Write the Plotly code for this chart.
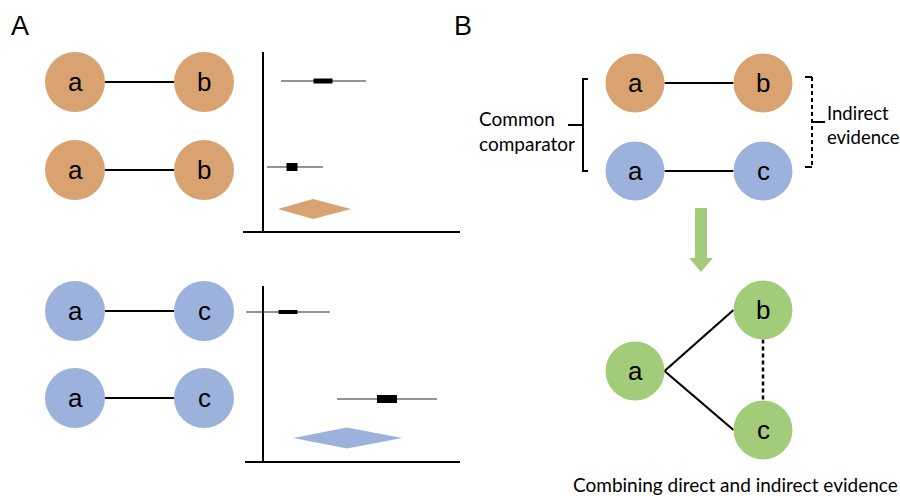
import plotly.graph_objects as go

# ---------------- data (diagram units = pixels of the 900x496 canvas) ----------------
ORANGE = "#d8a371"
BLUE = "#9cb2dd"
GREEN = "#a3cc7a"

# Panel A pairwise diagrams
pairA_left_x = [75, 75, 75, 75]
pairA_right_x = [204, 204, 204, 204]
pairA_y = [82, 170, 311, 398]
pairA_left_lab = ["a", "a", "a", "a"]
pairA_right_lab = ["b", "b", "c", "c"]
pairA_color = [ORANGE, ORANGE, BLUE, BLUE]
node_r = 30

# Panel A forest plots: study estimates and CIs
study_y = [81, 167, 312, 399]
study_est = [323, 292, 288, 387]
study_lo = [281, 267, 246, 337]
study_hi = [366, 323, 330, 437]
study_box_w = [19, 11, 19, 20]
study_box_h = [5, 8, 4, 8]
pooled_y = [209, 438]
pooled_est = [313, 347]
pooled_lo = [278, 293]
pooled_hi = [351, 402]
pooled_h = [20, 21]
pooled_color = [ORANGE, BLUE]
# forest axes: vertical x, y-top, y-bottom(=horizontal axis y), horizontal x0,x1
axis_vx = [263, 263]
axis_top = [52, 286]
axis_bottom = [232, 462]
axis_hx0 = [243, 245]
axis_hx1 = [460, 460]

# Panel B pairwise diagrams
pairB_left_x = [635, 635]
pairB_right_x = [763, 763]
pairB_y = [83, 171]
pairB_left_lab = ["a", "a"]
pairB_right_lab = ["b", "c"]
pairB_color = [ORANGE, BLUE]
nodeB_r = 29.5

# Brackets
left_bracket_x = 583
left_bracket_y = [79, 171]
left_bracket_mid = 125
right_bracket_x = 812
right_bracket_y = [77, 167]
right_bracket_mid = 122

# Combined network
net_lab = ["a", "b", "c"]
net_x = [635, 763, 763]
net_y = [371, 310, 430]

# Arrow
arrow_x = 701
arrow_y = [208, 258, 272]

# ---------------- figure ----------------
shapes = []
ann = []


def line(x0, y0, x1, y1, w=2, color="black", dash="solid"):
    shapes.append(dict(type="line", x0=x0, y0=y0, x1=x1, y1=y1,
                       line=dict(color=color, width=w, dash=dash)))


def circle(cx, cy, r, color):
    shapes.append(dict(type="circle", x0=cx - r, x1=cx + r, y0=cy - r, y1=cy + r,
                       fillcolor=color, line=dict(width=0)))


def label(x, y, text, size=26, family="Liberation Sans", xanchor="center"):
    ann.append(dict(x=x, y=y, text=text, showarrow=False, xanchor=xanchor,
                    yanchor="middle", font=dict(size=size, family=family, color="black")))


# Panel A pairs
for lx, rx, y, ll, rl, c in zip(pairA_left_x, pairA_right_x, pairA_y,
                                pairA_left_lab, pairA_right_lab, pairA_color):
    line(lx + node_r, y, rx - node_r, y, w=2.2)
    circle(lx, y, node_r, c)
    circle(rx, y, node_r, c)
    label(lx, y, ll)
    label(rx, y, rl)

# Forest axes
for vx, t, b, h0, h1 in zip(axis_vx, axis_top, axis_bottom, axis_hx0, axis_hx1):
    line(vx, t, vx, b, w=2)
    line(h0, b, h1, b, w=2)

# Study CIs and boxes
for y, e, lo, hi, bw, bh in zip(study_y, study_est, study_lo, study_hi,
                                study_box_w, study_box_h):
    line(lo, y, hi, y, w=1.2, color="#2a2a2a")
    shapes.append(dict(type="rect", x0=e - bw / 2, x1=e + bw / 2, y0=y - bh / 2,
                       y1=y + bh / 2, fillcolor="black", line=dict(width=0)))

# Pooled diamonds
for y, e, lo, hi, h, c in zip(pooled_y, pooled_est, pooled_lo, pooled_hi,
                              pooled_h, pooled_color):
    shapes.append(dict(type="path",
                       path=f"M {lo},{y} L {e},{y - h / 2} L {hi},{y} L {e},{y + h / 2} Z",
                       fillcolor=c, line=dict(width=0)))

# Panel B pairs
for lx, rx, y, ll, rl, c in zip(pairB_left_x, pairB_right_x, pairB_y,
                                pairB_left_lab, pairB_right_lab, pairB_color):
    line(lx + nodeB_r, y, rx - nodeB_r, y, w=2.2)
    circle(lx, y, nodeB_r, c)
    circle(rx, y, nodeB_r, c)
    label(lx, y, ll)
    label(rx, y, rl)

# Left solid bracket
bx = left_bracket_x
by0, by1 = left_bracket_y
shapes.append(dict(type="path", path=f"M {bx + 5},{by0} L {bx},{by0} L {bx},{by1} L {bx + 5},{by1}",
                   line=dict(color="black", width=2)))
line(bx - 15, left_bracket_mid, bx, left_bracket_mid, w=2)

# Right dashed bracket
rbx = right_bracket_x
ry0, ry1 = right_bracket_y
line(rbx - 7, ry0, rbx, ry0, w=2)
line(rbx - 7, ry1, rbx, ry1, w=2)
shapes.append(dict(type="line", x0=rbx, x1=rbx, y0=ry0, y1=ry1,
                   line=dict(color="black", width=2, dash="4px,3px")))
line(rbx, right_bracket_mid, rbx + 13, right_bracket_mid, w=2)

# Text panel B
TF = "Lato"
label(477, 118, "Common", size=19, family=TF, xanchor="left")
label(477, 143, "comparator", size=19, family=TF, xanchor="left")
label(825, 113, "Indirect", size=18.5, family=TF, xanchor="left")
label(825, 137, "evidence", size=18.5, family=TF, xanchor="left")

# Arrow
ay0, ay1, ay2 = arrow_y
shapes.append(dict(type="rect", x0=arrow_x - 6, x1=arrow_x + 6, y0=ay0, y1=ay1,
                   fillcolor=GREEN, line=dict(width=0)))
shapes.append(dict(type="path",
                   path=f"M {arrow_x - 12},{ay1} L {arrow_x + 12},{ay1} L {arrow_x},{ay2} Z",
                   fillcolor=GREEN, line=dict(width=0)))

# Combined network
ax_, bx_, cx_ = net_x
ay_, by_, cy_ = net_y
line(ax_ + nodeB_r, ay_, bx_ - nodeB_r, by_, w=2.2)
line(ax_ + nodeB_r, ay_, cx_ - nodeB_r, cy_, w=2.2)
shapes.append(dict(type="line", x0=bx_, x1=cx_, y0=by_ + nodeB_r, y1=cy_ - nodeB_r,
                   line=dict(color="black", width=2.5, dash="4px,3px")))
for lab, x, y in zip(net_lab, net_x, net_y):
    circle(x, y, nodeB_r, GREEN)
    label(x, y, lab)

label(735, 484, "Combining direct and indirect evidence", size=19, family=TF)

# Panel letters
label(20, 26, "A", size=27)
label(463, 26, "B", size=27)

fig = go.Figure()
fig.update_layout(
    width=900, height=496, margin=dict(l=0, r=0, t=0, b=0),
    paper_bgcolor="white", plot_bgcolor="white",
    xaxis=dict(range=[0, 900], visible=False, fixedrange=True),
    yaxis=dict(range=[496, 0], visible=False, fixedrange=True),
    shapes=shapes, annotations=ann, showlegend=False,
)
fig.write_html("out.html", config={"displayModeBar": False},
               post_script="document.body.style.margin='0';document.body.style.overflow='hidden';")
